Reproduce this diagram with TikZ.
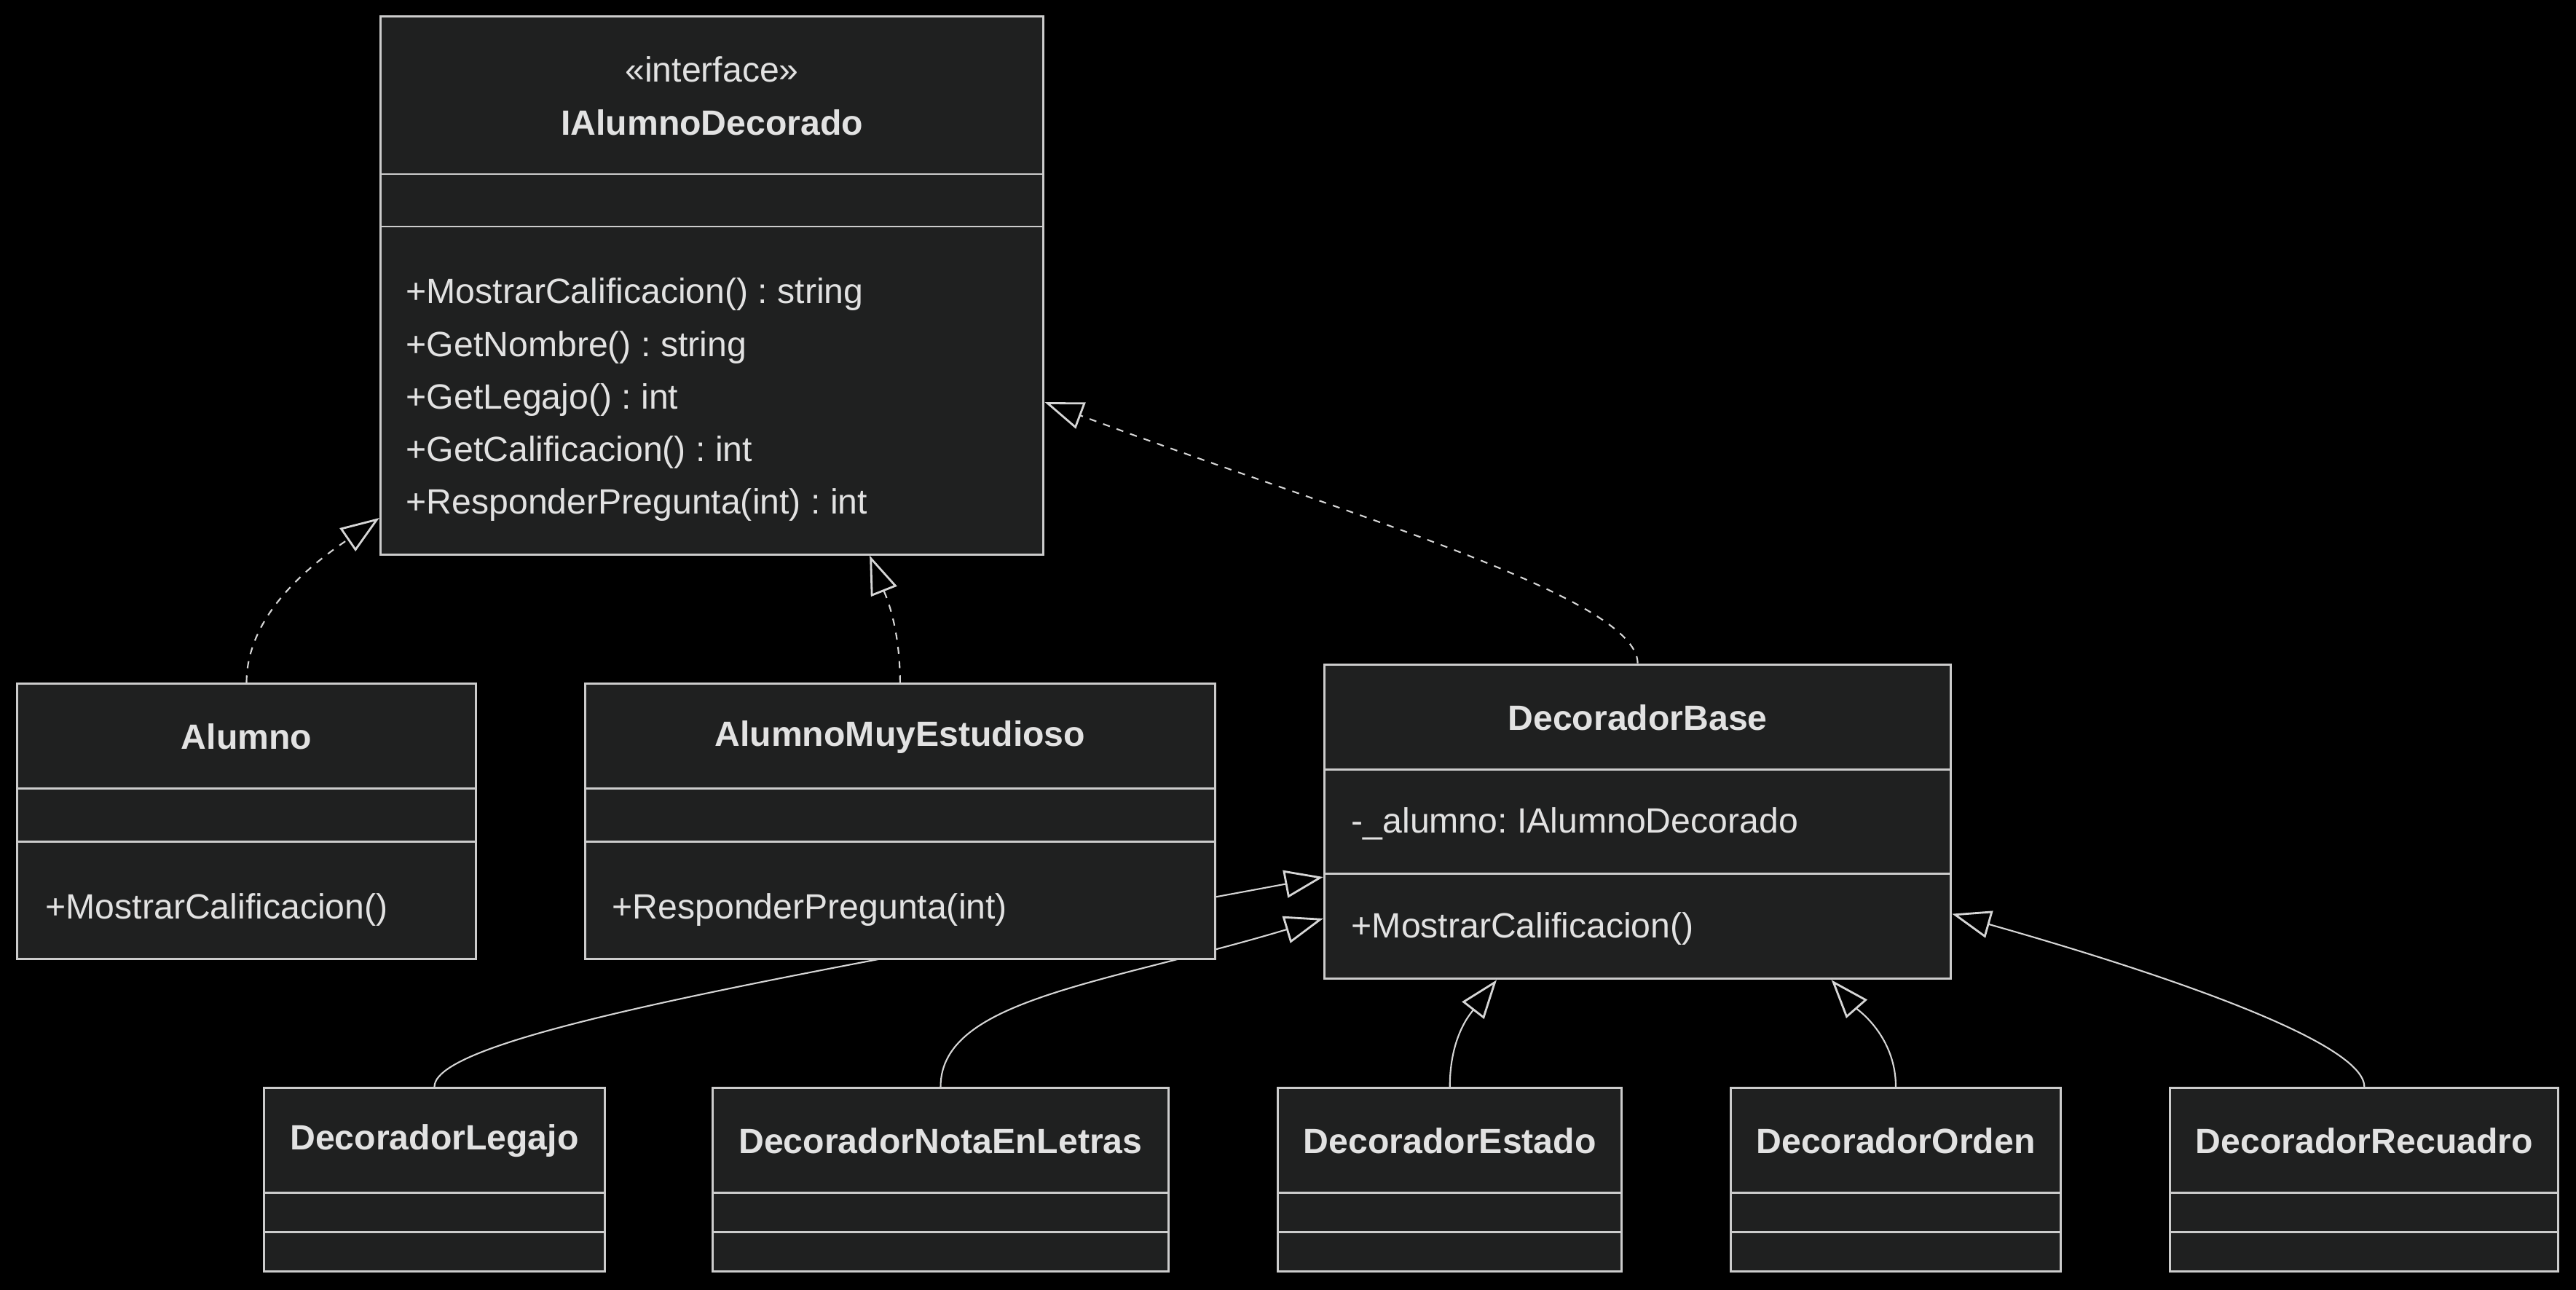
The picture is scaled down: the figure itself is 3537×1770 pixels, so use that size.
\documentclass[tikz,border=0pt]{standalone}
\usepackage{fontspec}
\setmainfont{Liberation Sans}
\usetikzlibrary{arrows.meta}
\definecolor{boxfill}{HTML}{1F2020}
\definecolor{boxline}{HTML}{CCCCCC}
\definecolor{edgeline}{HTML}{D6D6D6}
\definecolor{txt}{HTML}{E2E2E2}
\pgfdeclarelayer{bg}
\pgfdeclarelayer{edges}
\pgfsetlayers{bg,edges,main}
\frenchspacing

\begin{document}
\begin{tikzpicture}[x=0.01cm,y=-0.01cm,
    classbox/.style={draw=boxline,fill=boxfill,line width=0.85pt,inner sep=0pt},
    divider/.style={draw=boxline,line width=0.85pt},
    classname/.style={text=txt,font=\fontsize{13.7}{16}\selectfont\bfseries},
    member/.style={text=txt,anchor=west,inner sep=0pt,font=\fontsize{13.7}{16}\selectfont},
    realizes/.style={draw=edgeline,line width=0.6pt,dash pattern=on 2.8pt off 2.8pt,-{Triangle[open,length=0.53cm,width=0.38cm,line width=0.8pt]}},
    extends/.style={draw=edgeline,line width=0.6pt,-{Triangle[open,length=0.53cm,width=0.38cm,line width=0.8pt]}}]
    \useasboundingbox (0,0) rectangle (3537,1770);
    \begin{pgfonlayer}{bg}
        \fill[black] (-20,-20) rectangle (3557,1790);
    \end{pgfonlayer}

    % interface
    \node[classbox,minimum width=9.1cm,minimum height=7.38cm] (ialumno) at (977.6,392) {};
    \draw[divider] (522.7,239) -- (1432.6,239);
    \draw[divider] (522.7,311) -- (1432.6,311);
    \node[member,anchor=center] (ialumnost) at (977.6,95) {«interface»};
    \node[classname] (ialumnoname) at (977.6,168) {IAlumnoDecorado};
    \foreach \op [count=\i from 0] in {+MostrarCalificacion() : string,+GetNombre() : string,
        +GetLegajo() : int,+GetCalificacion() : int,+ResponderPregunta(int) : int}
        \node[member] (iop\i) at (557,404.5+72.2*\i) {\op};

    % middle row
    \node[classbox,minimum width=6.29cm,minimum height=3.78cm] (alumno) at (338.5,1127.7) {};
    \draw[divider] (24,1082.7) -- (653,1082.7);
    \draw[divider] (24,1155) -- (653,1155);
    \node[classname] (alumnoname) at (338.5,1011) {Alumno};
    \node[member] (alumnoop) at (62,1249) {+MostrarCalificacion()};

    \node[classbox,minimum width=8.64cm,minimum height=3.78cm] (alumnomuy) at (1235.8,1127.7) {};
    \draw[divider] (803.7,1082.7) -- (1668,1082.7);
    \draw[divider] (803.7,1155) -- (1668,1155);
    \node[classname] (alumnomuyname) at (1235.8,1012) {AlumnoMuyEstudioso};
    \node[member] (alumnomuyop) at (840,1249) {+ResponderPregunta(int)};

    \node[classbox,minimum width=8.6cm,minimum height=4.314cm] (decbase) at (2248.6,1128) {};
    \draw[divider] (1818.8,1056) -- (2678.5,1056);
    \draw[divider] (1818.8,1199.5) -- (2678.5,1199.5);
    \node[classname] (decbasename) at (2248.6,985) {DecoradorBase};
    \node[member] (decbaseattr) at (1855,1131) {-\_alumno: IAlumnoDecorado};
    \node[member] (decbaseop) at (1855,1275) {+MostrarCalificacion()};

    % decorators
    \foreach \nm/\cx/\w in {declegajo/596.5/4.67,decnota/1291.5/6.25,decestado/1990.7/4.715,
        decorden/2603/4.52,decrecuadro/3246.3/5.326} {
        \node[classbox,minimum width=\w cm,minimum height=2.52cm] (\nm) at (\cx,1619.5) {};
        \draw[divider] (\nm.west |- 0,1637.6) -- (\nm.east |- 0,1637.6);
        \draw[divider] (\nm.west |- 0,1691.6) -- (\nm.east |- 0,1691.6);
    }
    \node[classname] (declegajoname) at (596.5,1566) {DecoradorLegajo};
    \node[classname] (decnotaname) at (1291.5,1566) {DecoradorNotaEnLetras};
    \node[classname] (decestadoname) at (1990.7,1566) {DecoradorEstado};
    \node[classname] (decordenname) at (2603,1566) {DecoradorOrden};
    \node[classname] (decrecuadroname) at (3246.3,1566) {DecoradorRecuadro};

    % connectors, behind the boxes
    \begin{pgfonlayer}{edges}
        \draw[realizes] (alumno.north) .. controls +(0,-100) and +(-80,55) .. ([shift={(0,319)}]ialumno.west);
        \draw[realizes] (alumnomuy.north) .. controls +(0,-80) and +(20,50) .. ([shift={(216.5,0)}]ialumno.south);
        \draw[realizes] (decbase.north) .. controls +(0,-92) and +(400,150) .. ([shift={(0,160)}]ialumno.east);
        \draw[extends] (declegajo.north) .. controls +(0,-73) and +(-700,130) .. ([shift={(0,76)}]decbase.west);
        \draw[extends] (decnota.north) .. controls +(0,-120) and +(-300,90) .. ([shift={(0,133)}]decbase.west);
        \draw[extends] (decestado.north) .. controls +(0,-70) and +(-35,45) .. ([shift={(-193.6,0)}]decbase.south);
        \draw[extends] (decorden.north) .. controls +(0,-70) and +(35,40) .. ([shift={(266,0)}]decbase.south);
        \draw[extends] (decrecuadro.north) .. controls +(0,-60) and +(300,85) .. ([shift={(0,126.6)}]decbase.east);
    \end{pgfonlayer}
\end{tikzpicture}
\end{document}
